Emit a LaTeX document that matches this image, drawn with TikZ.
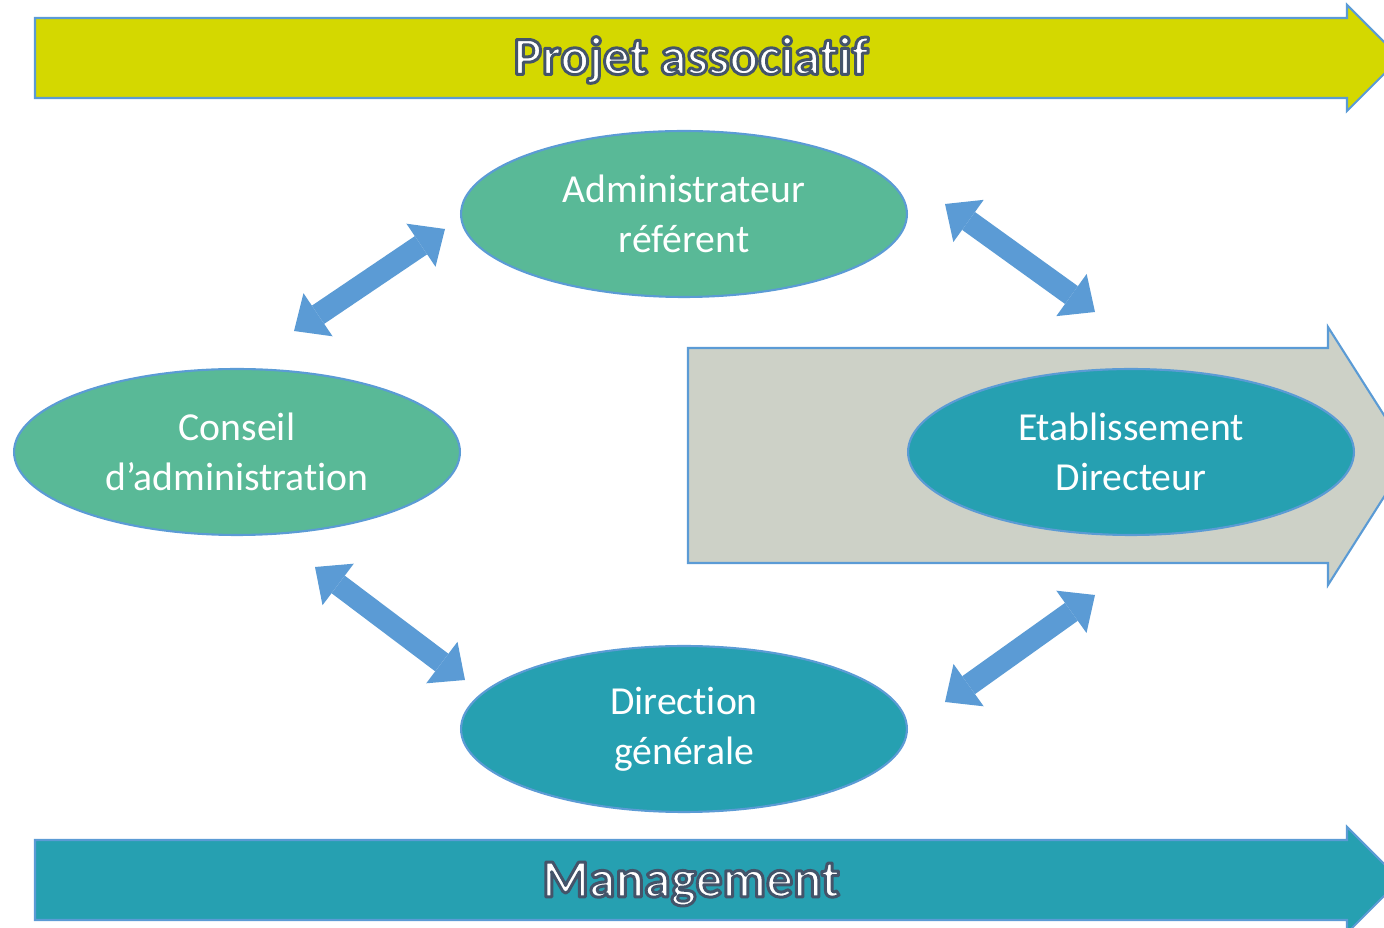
\documentclass[tikz,border=0pt]{standalone}
\usepackage{fontspec}
\setmainfont[Ligatures=NoCommon]{Carlito}
\usetikzlibrary{shapes.geometric, arrows.meta}

\definecolor{projyellow}{HTML}{D4D800}
\definecolor{estgray}{HTML}{CDD1C7}
\definecolor{roleteal}{HTML}{26A0B1}
\definecolor{rolegreen}{HTML}{59B997}
\definecolor{edgeblue}{HTML}{5B9BD5}

% white letters with a slate outline (pdf text render mode 2)
\newcommand{\outlined}[1]{\special{pdf:literal direct 0.267 0.329 0.416 RG 1.7 w 1 j 2 Tr}#1\special{pdf:literal direct 0 Tr}}

\tikzset{
  role/.style={ellipse, draw=edgeblue, line width=1.2pt, minimum width=8.92cm,
    minimum height=3.32cm, text=white, align=center,
    font=\fontsize{22.6}{28.5}\selectfont},
  link/.style={draw=edgeblue, line width=0.44cm,
    {Triangle[length=0.58cm, width=1.04cm, line width=0pt]}-{Triangle[length=0.58cm, width=1.04cm, line width=0pt]}},
  banner/.style={draw=edgeblue, line width=1.2pt},
  bannertext/.style={text=white, font=\bfseries\fontsize{30.5}{36}\selectfont}
}

\begin{document}
\begin{tikzpicture}[x=0.02cm, y=-0.02cm]
    \useasboundingbox (0,0) rectangle (1384,928);

    % Banners
    \draw[banner, fill=projyellow] (35,18) -- (1347,18) -- (1347,5) -- (1400,58)
        -- (1347,111) -- (1347,98) -- (35,98) -- cycle;
    \draw[banner, fill=estgray] (688,348) -- (1328,348) -- (1328,327) -- (1410,456)
        -- (1328,585) -- (1328,563) -- (688,563) -- cycle;
    \draw[banner, fill=roleteal] (35,840) -- (1347,840) -- (1347,827) -- (1400,880)
        -- (1347,933) -- (1347,920) -- (35,920) -- cycle;
    \node[bannertext] (projet) at (691,60) {\outlined{Projet associatif}};
    \node[bannertext] (management) at (691,884) {\outlined{Management}};

    % Roles
    \node[role, fill=rolegreen] (admin) at (684,214) {Administrateur\\référent};
    \node[role, fill=rolegreen] (conseil) at (237,452) {Conseil\\d’administration};
    \node[role, fill=roleteal] (etab) at (1131,452) {Etablissement\\Directeur};
    \node[role, fill=roleteal] (direction) at (684,729) {Direction\\générale};

    % Links between roles
    \coordinate (ca) at (294,331);
    \coordinate (ac) at (445,229);
    \coordinate (ae) at (945,204);
    \coordinate (ea) at (1095,312);
    \coordinate (cd) at (315,567);
    \coordinate (dc) at (465,680);
    \coordinate (de) at (945,702);
    \coordinate (ed) at (1095,595);
    \draw[link] (ca) -- (ac);
    \draw[link] (ae) -- (ea);
    \draw[link] (cd) -- (dc);
    \draw[link] (de) -- (ed);

\end{tikzpicture}
\end{document}
